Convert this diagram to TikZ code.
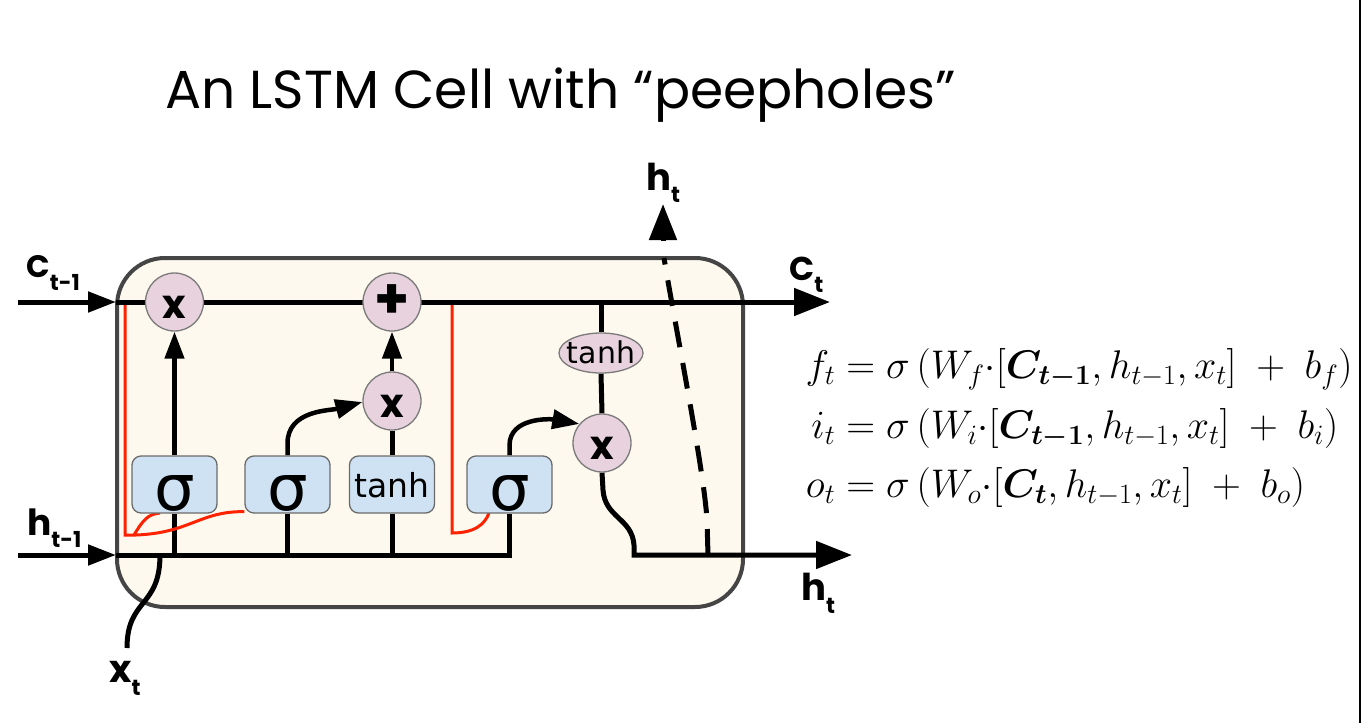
\RequirePackage{fix-cm}
\documentclass[tikz,border=0pt]{standalone}
\usepackage{amsmath,bm}
\usepackage[no-math]{fontspec}
\setmainfont{Poppins}
\newfontfamily\djv{DejaVu Sans}
\usetikzlibrary{arrows.meta,shapes.geometric}
\pgfdeclarelayer{back}
\pgfdeclarelayer{mid}
\pgfsetlayers{back,mid,main}
\definecolor{cellfill}{HTML}{FEF9EE}
\definecolor{cellborder}{HTML}{454545}
\definecolor{opfill}{HTML}{E7D2DD}
\definecolor{opdraw}{HTML}{7A7A7A}
\definecolor{gatefill}{HTML}{CFE2F3}
\definecolor{gatedraw}{HTML}{6B6B6B}
\definecolor{peepred}{HTML}{FF2200}
\newcommand\lbl[5]{{\fontsize{#1}{#1}\selectfont\bfseries #2}\raisebox{#5}{\fontsize{#3}{#3}\selectfont\bfseries #4}}
\newcommand\eqlhs[1]{\makebox[34pt][r]{$#1$}}
\begin{document}
\begin{tikzpicture}[x=1pt,y=-1pt,
  ln/.style={line width=5pt},
  arrS/.style={line width=5pt,-{Triangle[length=28pt,width=20pt]}},
  arrB/.style={line width=5pt,-{Triangle[length=36pt,width=27pt]}},
  arrI/.style={line width=4.5pt,-{Triangle[length=27pt,width=19pt]}},
  op/.style={circle,draw=opdraw,line width=1.3pt,fill=opfill,minimum size=58pt,inner sep=0pt,
    font=\fontsize{40}{40}\selectfont\bfseries},
  opx/.style={op,text height=32pt,text depth=0pt},
  gate/.style={rectangle,rounded corners=9pt,draw=gatedraw,line width=1.3pt,fill=gatefill,
    minimum width=85pt,minimum height=57pt,inner sep=0pt},
  sig/.style={gate,text height=51pt,text depth=0pt,font=\djv\fontsize{64}{64}\selectfont},
  tgate/.style={gate,text height=25pt,text depth=0pt,font=\djv\fontsize{33}{33}\selectfont},
  tell/.style={ellipse,draw=opdraw,line width=1.3pt,fill=opfill,minimum width=84pt,minimum height=40pt,
    inner sep=0pt,text height=20pt,text depth=0pt,font=\djv\fontsize{30}{30}\selectfont},
  peep/.style={draw=peepred,line width=3pt},
  dsh/.style={line width=5pt,dash pattern=on 26pt off 16pt},
  lab/.style={anchor=base west,inner sep=0pt},
  eq/.style={anchor=base west,inner sep=0pt,font=\fontsize{40}{40}\selectfont}]
\useasboundingbox (0,0) rectangle (1361,723);
\begin{pgfonlayer}{back}
  \fill[white] (0,0) rectangle (1361,723);
  \fill[black] (1359,0) rectangle (1361,723);
  \draw[line width=4pt,draw=cellborder,fill=cellfill,rounded corners=48pt] (117,258) rectangle (743,607);
\end{pgfonlayer}

% title
\node[lab] (title) at (165,108) {\fontsize{53.5}{53.5}\selectfont An LSTM Cell with “peepholes”};

% operators
\node[opx] (fx) at (174.5,302) {x};
\node[op,font=\fontsize{56}{56}\selectfont\bfseries] (px) at (392,302) {+};
\node[opx] (ix) at (392,401) {x};
\node[opx] (ox) at (602,443) {x};
\node[tell] (th) at (601,353) {\makebox[40pt]{tanh}};

% gates
\node[sig] (s1) at (174.5,484.5) {σ};
\node[sig] (s2) at (287.5,484.5) {σ};
\node[tgate] (tg) at (392,484.5) {\makebox[40pt]{tanh}};
\node[sig] (s3) at (509.5,484.5) {σ};

% coordinates
\coordinate (cin) at (18,302);
\coordinate (cl) at (116,302);
\coordinate (cout) at (830,302);
\coordinate (hin) at (18,555);
\coordinate (hl) at (116,555);
\coordinate (hout) at (852,555);
\coordinate (xin) at (127,648);
\coordinate (xj) at (160,555);
\coordinate (hd) at (708,555);
\coordinate (hdtop) at (664,258);
\coordinate (hupb) at (663,241);
\coordinate (hup) at (663,204);

% labels
\node[lab] (lc1) at (26,277) {\lbl{31}{C}{22}{t-1}{-13pt}};
\node[lab] (lh1) at (27,535) {\lbl{36}{h}{22}{t-1}{-12pt}};
\node[lab] (lx) at (109,682) {\lbl{38}{x}{22}{t}{-13pt}};
\node[lab] (lct) at (789,280) {\lbl{33}{C}{22}{t}{-12pt}};
\node[lab] (lht) at (801,600) {\lbl{37}{h}{22}{t}{-13pt}};
\node[lab] (lhu) at (646,190) {\lbl{37}{h}{22}{t}{-12pt}};

% equations
\node[eq] (eqf) at (801,378) {\eqlhs{f_t}${}= \sigma\left(W_f{\cdot}[\bm{C_{t-1}}, h_{t-1}, x_t]\ +\ b_f\right)$};
\node[eq] (eqi) at (801,438) {\eqlhs{i_t}${}= \sigma\left(W_i{\cdot}[\bm{C_{t-1}}, h_{t-1}, x_t]\ +\ b_i\right)$};
\node[eq] (eqo) at (801,497) {\eqlhs{o_t}${}= \sigma\left(W_o{\cdot}[\bm{C_{t}}, h_{t-1}, x_t]\ +\ b_o\right)$};

\begin{pgfonlayer}{mid}
  % cell state line
  \draw[arrS] (cin) -- (cl);
  \draw[arrB] (cl) -- (cout);
  % hidden input line
  \draw[arrS] (hin) -- (hl);
  \draw[ln] (hl) -| (s3.south);
  \draw[ln] (s1.south) -- (s1.south |- hl);
  \draw[ln] (s2.south) -- (s2.south |- hl);
  \draw[ln] (tg.south) -- (tg.south |- hl);
  % gate outputs
  \draw[arrI] (s1.north) -- (fx.south);
  \draw[arrI] (s2.north) -- ++(0,-12) to[out=90,in=195] (ix.182);
  \draw[ln] (tg.north) -- (ix.south);
  \draw[arrI] (ix.north) -- (px.south);
  \draw[arrI] (s3.north) -- ++(0,-10) to[out=90,in=170] (ox.140);
  \draw[ln] (th.north |- cl) -- (th.north);
  \draw[ln] (th.south) -- (ox.north);
  \draw[arrB] (ox.south) -- (603,490) .. controls (605,518) and (632,518) .. (634,545) -- (634,555) -- (hout);
  % x input
  \draw[ln] (xin) .. controls (127,598) and (160,608) .. (xj);
  % h_t upward (dashed)
  \draw[dsh] (hd) -- (707,520) .. controls (704,470) and (676,330) .. (hdtop);
  \draw[arrB] (hupb) -- (hup);
  % peepholes
  \draw[peep] (125,305) -- (125,535) -- (136,535) .. controls (190,533) and (200,511) .. ([yshift=2pt]s2.south west);
  \draw[peep] (134,535) .. controls (143,520) and (148,514) .. (160,513);
  \draw[peep] (452,305) -- (452,533) .. controls (475,533) and (485,524) .. (489,513);
\end{pgfonlayer}
\end{tikzpicture}
\end{document}
